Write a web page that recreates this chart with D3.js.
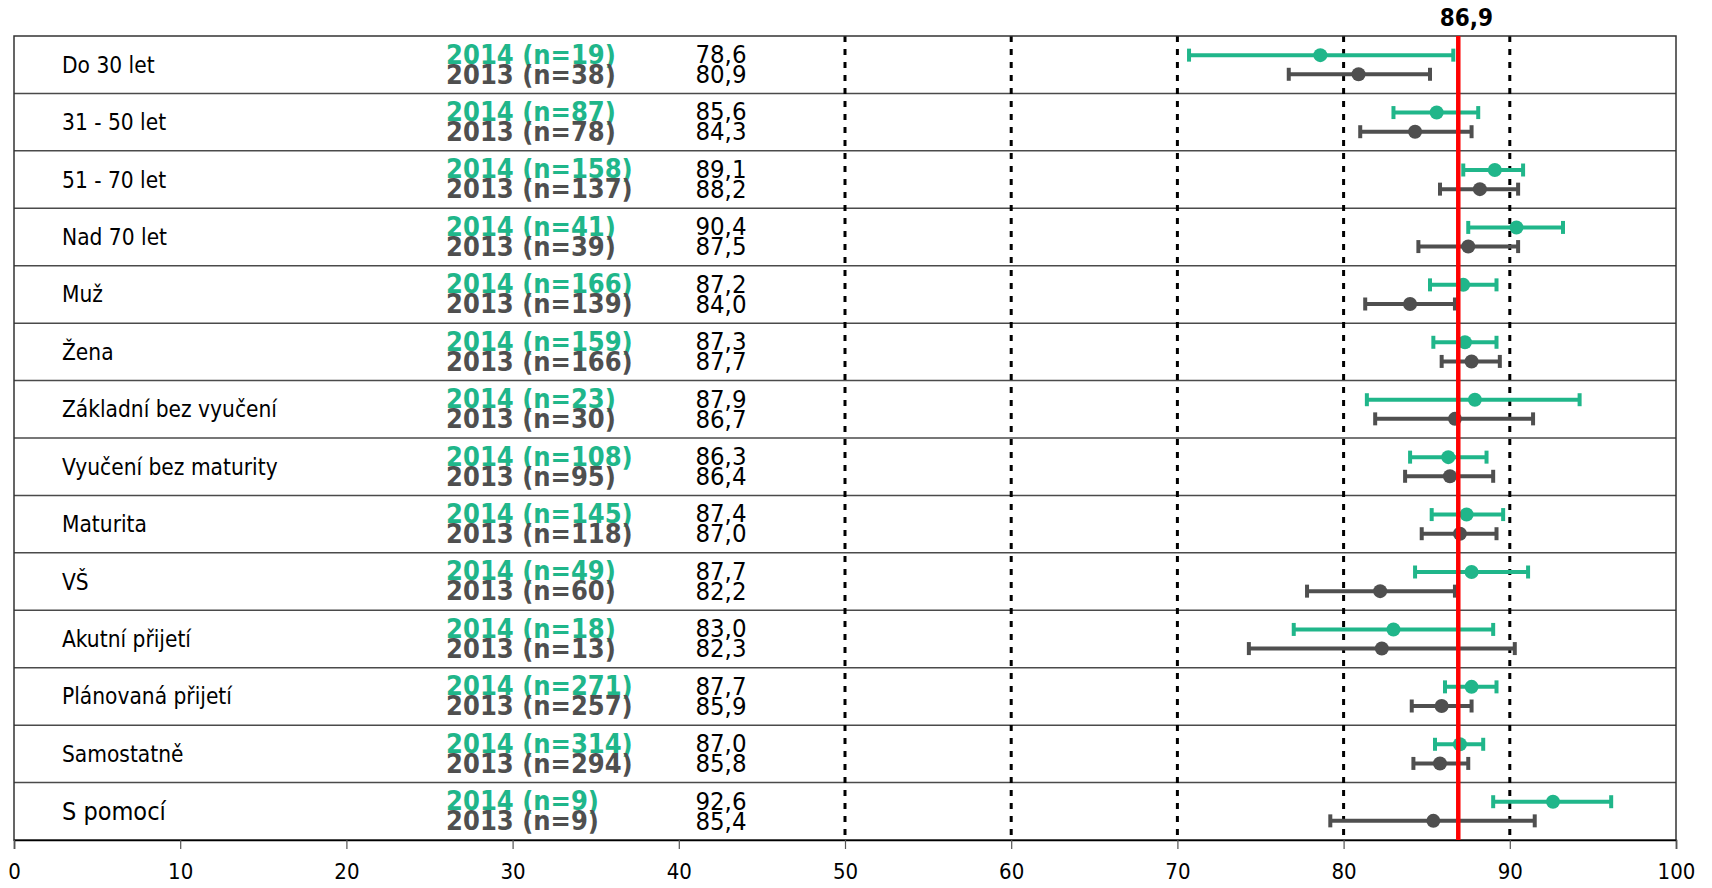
<!DOCTYPE html>
<html>
<head>
<meta charset="utf-8">
<script src="https://cdn.jsdelivr.net/npm/d3@7"></script>
<style>
  html, body { margin: 0; padding: 0; background: #fff; }
  svg { display: block; }
  text { font-family: "DejaVu Sans Condensed", "DejaVu Sans", sans-serif; font-stretch: condensed; }
</style>
</head>
<body>
<svg id="chart" width="1712" height="888"></svg>
<script>
const categories = ["Do 30 let", "31 - 50 let", "51 - 70 let", "Nad 70 let", "Muž", "Žena",
  "Základní bez vyučení", "Vyučení bez maturity", "Maturita", "VŠ", "Akutní přijetí",
  "Plánovaná přijetí", "Samostatně", "S pomocí"];
const n2014 = [19, 87, 158, 41, 166, 159, 23, 108, 145, 49, 18, 271, 314, 9];
const n2013 = [38, 78, 137, 39, 139, 166, 30, 95, 118, 60, 13, 257, 294, 9];
const mean2014 = [78.6, 85.6, 89.1, 90.4, 87.2, 87.3, 87.9, 86.3, 87.4, 87.7, 83.0, 87.7, 87.0, 92.6];
const mean2013 = [80.9, 84.3, 88.2, 87.5, 84.0, 87.7, 86.7, 86.4, 87.0, 82.2, 82.3, 85.9, 85.8, 85.4];
const low2014  = [70.7, 83.0, 87.2, 87.5, 85.2, 85.4, 81.4, 84.0, 85.3, 84.3, 77.0, 86.1, 85.5, 89.0];
const high2014 = [86.6, 88.1, 90.8, 93.2, 89.2, 89.2, 94.2, 88.6, 89.6, 91.1, 89.0, 89.2, 88.4, 96.1];
const low2013  = [76.7, 81.0, 85.8, 84.5, 81.3, 85.9, 81.9, 83.7, 84.7, 77.8, 74.3, 84.1, 84.2, 79.2];
const high2013 = [85.2, 87.7, 90.5, 90.5, 86.7, 89.4, 91.4, 89.0, 89.2, 86.7, 90.3, 87.7, 87.5, 91.5];
const overall = 86.9;
const xTicks = [0, 10, 20, 30, 40, 50, 60, 70, 80, 90, 100];
const guideLines = [50, 60, 70, 80, 90];
const years = ["2014", "2013"];

const GREEN = "#20b68a", GRAY = "#4f4f4f";
const svg = d3.select("#chart");
const pLeft = 14, pRight = 1676, pTop = 36, pBottom = 840;

const x = d3.scaleLinear().domain([0, 100]).range([pLeft, pRight]);
const y = d3.scaleBand().domain(d3.range(categories.length)).range([pTop, pBottom]).padding(0);
const rh = y.bandwidth();
const fmt = v => d3.format(".1f")(v).replace(".", ",");

// row separators
svg.append("g").selectAll("line").data(d3.range(1, categories.length)).join("line")
  .attr("x1", pLeft).attr("x2", pRight)
  .attr("y1", i => y(i)).attr("y2", i => y(i))
  .attr("stroke", "#4a4a4a").attr("stroke-width", 1.5);

// dotted guides
svg.append("g").selectAll("line").data(guideLines).join("line")
  .attr("x1", d => x(d)).attr("x2", d => x(d))
  .attr("y1", pTop).attr("y2", pBottom)
  .attr("stroke", "#000").attr("stroke-width", 3).attr("stroke-dasharray", "6,7");

// frame
svg.append("rect").attr("x", pLeft).attr("y", pTop).attr("width", pRight - pLeft).attr("height", pBottom - pTop)
  .attr("fill", "none").attr("stroke", "#333").attr("stroke-width", 1.5);

// axis
const axis = d3.axisBottom(x).tickValues(xTicks).tickSize(9).tickPadding(14).tickFormat(d3.format("d"));
const ag = svg.append("g").attr("transform", `translate(0,${pBottom})`).call(axis);
ag.select(".domain").attr("stroke", "#000").attr("stroke-width", 1.5);
ag.selectAll(".tick line").attr("stroke", "#555").attr("stroke-width", 1.2);
ag.selectAll(".tick text").attr("font-size", 22).attr("fill", "#000")
  .style("font-family", '"DejaVu Sans Condensed", "DejaVu Sans", sans-serif');

// rows
const rows = svg.append("g").selectAll("g").data(categories).join("g")
  .attr("transform", (d, i) => `translate(0,${y(i)})`);

rows.append("text").attr("x", 62).attr("y", rh / 2).attr("dominant-baseline", "central")
  .attr("font-size", (d, i) => i === categories.length - 1 ? 25 : 22.5).attr("fill", "#000").text(d => d);

const series = [
  { n: n2014, mean: mean2014, lo: low2014, hi: high2014, color: GREEN, dy: rh / 3, ty: 18 },
  { n: n2013, mean: mean2013, lo: low2013, hi: high2013, color: GRAY, dy: 2 * rh / 3, ty: 38 }
];

series.forEach((s, si) => {
  rows.append("text").attr("x", x(26)).attr("y", s.ty).attr("dominant-baseline", "central")
    .attr("font-size", 27).attr("font-weight", "bold").attr("fill", s.color)
    .text((d, i) => `${years[si]} (n=${s.n[i]})`);
  rows.append("text").attr("x", x(41)).attr("y", s.ty).attr("dominant-baseline", "central")
    .attr("font-size", 25.5).attr("fill", "#000")
    .text((d, i) => fmt(s.mean[i]));
});

// red overall line
svg.append("line").attr("x1", x(overall)).attr("x2", x(overall)).attr("y1", pTop).attr("y2", pBottom)
  .attr("stroke", "#ff0000").attr("stroke-width", 4.5);
svg.append("text").attr("x", x(overall) + 8).attr("y", 18).attr("text-anchor", "middle")
  .attr("dominant-baseline", "central").attr("font-size", 24).attr("font-weight", "bold")
  .attr("fill", "#000").text(fmt(overall));

// error bars
series.forEach(s => {
  const g = rows.append("g").attr("transform", `translate(0,${s.dy})`);
  g.append("line").attr("x1", (d, i) => x(s.lo[i])).attr("x2", (d, i) => x(s.hi[i]))
    .attr("y1", 0).attr("y2", 0).attr("stroke", s.color).attr("stroke-width", 4);
  [s.lo, s.hi].forEach(arr => {
    g.append("line").attr("x1", (d, i) => x(arr[i])).attr("x2", (d, i) => x(arr[i]))
      .attr("y1", -6.5).attr("y2", 6.5).attr("stroke", s.color).attr("stroke-width", 4);
  });
  g.append("circle").attr("cx", (d, i) => x(s.mean[i])).attr("cy", 0).attr("r", 7).attr("fill", s.color);
});
</script>
</body>
</html>
